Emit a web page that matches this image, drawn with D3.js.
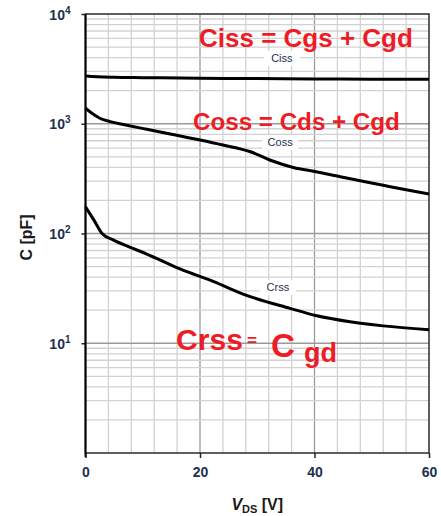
<!DOCTYPE html>
<html><head><meta charset="utf-8">
<script src="https://cdn.jsdelivr.net/npm/d3@7"></script>
<style>body{margin:0;background:#fff}svg{display:block}</style>
</head><body>
<svg id="chart" width="441" height="516"></svg>
<script>
// ---------- data ----------
const vdsTicks = [0, 20, 40, 60];
const capDecadeExponents = [1, 2, 3, 4];
const seriesNames = ["Ciss", "Coss", "Crss"];

const cissV = [0, 2, 5, 10, 20, 30, 40, 50, 60];
const cissC = [2720, 2680, 2650, 2630, 2600, 2580, 2560, 2550, 2540];

const cossV = [0, 1, 2.5, 4.3, 7, 10.7, 15, 20, 24, 28.8, 32.3, 36.3, 40.5, 44.5, 48, 52, 56, 60];
const cossC = [1384, 1260, 1122, 1045, 975, 890, 802, 711, 640, 556, 465, 400, 364, 329, 303, 275, 250, 229];

const crssV = [0, 1.45, 2.9, 4.9, 7.5, 10.7, 16.5, 22.4, 28, 35.7, 40.4, 46.2, 52, 60];
const crssC = [175, 133, 100, 87, 76, 65, 47.5, 36.4, 27.5, 20.8, 17.8, 15.7, 14.4, 13.3];

const annotationTexts = ["Ciss = Cgs + Cgd", "Coss = Cds + Cgd", "Crss", "=", "C", "gd"];

// ---------- layout ----------
const L = 85.5, R = 429, T = 14, B = 453;
const svg = d3.select("#chart");
const x = d3.scaleLinear().domain([0, 60]).range([L, R]);
const y = d3.scaleLog().domain([1, 1e4]).range([B, T]);
const FONT = "'Liberation Sans', Arial, sans-serif";
const HAND = "'Liberation Sans Narrow', 'Liberation Sans', sans-serif";
const LABEL_COLOR = "#22304f";

// grid: verticals every 4 V
const gv = d3.range(4, 60, 4);
svg.append("g").selectAll("line").data(gv).join("line")
  .attr("x1", d => x(d)).attr("x2", d => x(d))
  .attr("y1", T).attr("y2", B)
  .attr("stroke", d => d % 20 === 0 ? "#9a9a9a" : "#d2d2d2")
  .attr("stroke-width", 1.3);

// grid: horizontals (log minor + decades)
const gh = [];
for (let e = 0; e < 4; e++) for (let m = 1; m <= 9; m++) gh.push(m * Math.pow(10, e));
svg.append("g").selectAll("line").data(gh.filter(d => d > 1)).join("line")
  .attr("x1", L).attr("x2", R)
  .attr("y1", d => y(d)).attr("y2", d => y(d))
  .attr("stroke", d => Math.abs(Math.log10(d) - Math.round(Math.log10(d))) < 1e-9 ? "#9a9a9a" : "#d2d2d2")
  .attr("stroke-width", 1.3);

// frame
svg.append("rect").attr("x", L).attr("y", T).attr("width", R - L).attr("height", B - T)
  .attr("fill", "none").attr("stroke", "#2a2a2a").attr("stroke-width", 1.5);
svg.append("line").attr("x1", L).attr("x2", L).attr("y1", T).attr("y2", B + 4)
  .attr("stroke", "#000").attr("stroke-width", 2);

// axes
const xAxis = svg.append("g").attr("transform", `translate(0,${B})`)
  .call(d3.axisBottom(x).tickValues(vdsTicks).tickSize(5).tickFormat(d3.format("d")));
xAxis.select(".domain").remove();
xAxis.selectAll(".tick line").attr("stroke", "#222").attr("stroke-width", 1.5);
xAxis.selectAll(".tick text").attr("font-family", FONT).attr("font-weight", "bold")
  .attr("font-size", 14).attr("fill", LABEL_COLOR).attr("dy", null).attr("y", 24);

const yAxis = svg.append("g").attr("transform", `translate(${L},0)`)
  .call(d3.axisLeft(y).tickValues(capDecadeExponents.map(e => Math.pow(10, e))).tickSize(4).tickFormat(() => ""));
yAxis.select(".domain").remove();
yAxis.selectAll(".tick line").attr("stroke", "#222").attr("stroke-width", 1.5);
yAxis.selectAll(".tick").each(function(d) {
  const t = d3.select(this).append("text")
    .attr("x", -15).attr("y", 5).attr("text-anchor", "end")
    .attr("font-family", FONT).attr("font-weight", "bold").attr("font-size", 14)
    .attr("fill", LABEL_COLOR);
  t.append("tspan").text("10");
  t.append("tspan").attr("dy", -6).attr("font-size", 10).text(Math.round(Math.log10(d)));
});

// axis titles
const xt = svg.append("text").attr("x", (L + R) / 2).attr("y", 510).attr("text-anchor", "middle")
  .attr("font-family", FONT).attr("font-weight", "bold").attr("font-size", 16).attr("fill", "#1a1a1a");
xt.append("tspan").attr("font-style", "italic").text("V");
xt.append("tspan").attr("font-size", 11).attr("dy", 3).text("DS");
xt.append("tspan").attr("dy", -3).text(" [V]");

svg.append("text").attr("transform", `translate(32,${(T + B) / 2 + 4}) rotate(-90)`)
  .attr("text-anchor", "middle").attr("font-family", FONT).attr("font-weight", "bold")
  .attr("font-size", 16).attr("fill", "#1a1a1a").text("C [pF]");

// curves
const series = [
  { name: seriesNames[0], v: cissV, c: cissC },
  { name: seriesNames[1], v: cossV, c: cossC },
  { name: seriesNames[2], v: crssV, c: crssC }
];
const line = d3.line().x(d => x(d[0])).y(d => y(d[1])).curve(d3.curveMonotoneX);
svg.append("g").selectAll("path").data(series).join("path")
  .attr("d", s => line(s.v.map((v, i) => [v, s.c[i]])))
  .attr("fill", "none").attr("stroke", "#000").attr("stroke-width", 3)
  .attr("stroke-linejoin", "round");

// curve labels with white boxes (anchors in data space)
const labelAnchors = [[34.3, 3970], [34.0, 680], [33.6, 32.5]];
series.forEach((s, i) => {
  const cx = x(labelAnchors[i][0]), cy = y(labelAnchors[i][1]);
  svg.append("rect").attr("x", cx - 18).attr("y", cy - 7).attr("width", 36).attr("height", 15).attr("fill", "#fff");
  svg.append("text").attr("x", cx).attr("y", cy + 4).attr("text-anchor", "middle")
    .attr("font-family", FONT).attr("font-size", 11).attr("fill", LABEL_COLOR).text(s.name);
});

// red handwritten annotations (sized to fit their measured widths)
const RED = "#ee1c25";
const annLayout = [
  { x: 199, y: 47, size: 32, w: 214 },
  { x: 193, y: 130, size: 32, w: 207 },
  { x: 176, y: 350, size: 32, w: 67 },
  { x: 247, y: 346, size: 26, w: 10 },
  { x: 271, y: 357, size: 34, w: 24 },
  { x: 304, y: 362, size: 29, w: 33 }
];
annotationTexts.forEach((t, i) => {
  const a = annLayout[i];
  const el = svg.append("text").attr("x", a.x).attr("y", a.y)
    .attr("font-family", HAND).attr("font-weight", "bold").attr("font-size", a.size)
    .attr("fill", RED).text(t);
  const w = el.node().getComputedTextLength();
  if (w > a.w) el.attr("font-size", a.size * a.w / w);
});
</script>
</body></html>
